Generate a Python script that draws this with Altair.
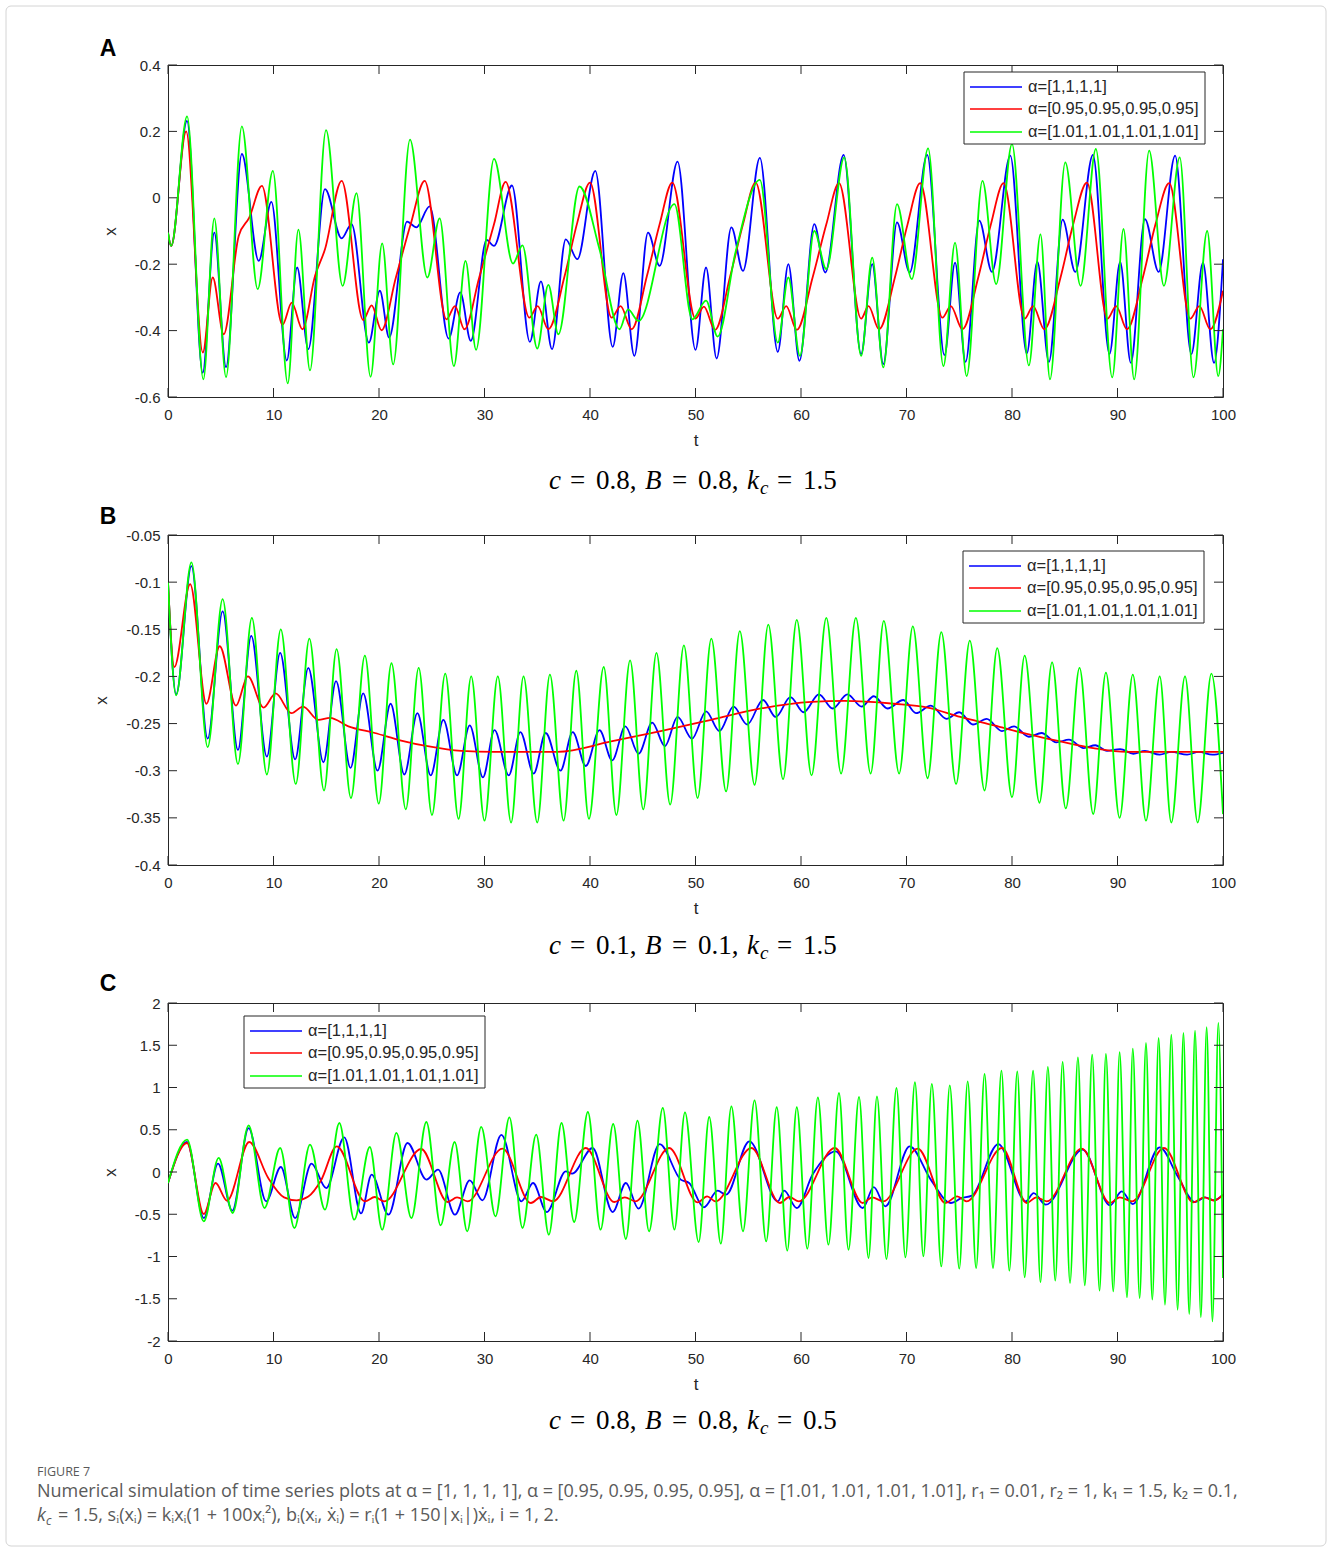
import altair as alt
import pandas as pd

# ---------------- data ----------------
SERIES = ["α=[1,1,1,1]", "α=[0.95,0.95,0.95,0.95]", "α=[1.01,1.01,1.01,1.01]"]
COLORS = ["#0000ff", "#ff0000", "#00ff00"]
LETTERS = ["A", "B", "C"]
PARAMS = [("0.8", "0.8", "1.5"), ("0.1", "0.1", "1.5"), ("0.8", "0.8", "0.5")]

X_TICKS = [0, 10, 20, 30, 40, 50, 60, 70, 80, 90, 100]
A_Y_TICKS = [-0.6, -0.4, -0.2, 0, 0.2, 0.4]
B_Y_TICKS = [-0.4, -0.35, -0.3, -0.25, -0.2, -0.15, -0.1, -0.05]
C_Y_TICKS = [-2, -1.5, -1, -0.5, 0, 0.5, 1, 1.5, 2]

# Panel A  (t, x) extrema
A_BLUE = [(0, -0.105), (0.3, -0.145), (1.8, 0.232), (3.29, -0.527), (4.39, -0.105), (5.5, -0.51), (7.0, 0.132),
          (8.6, -0.19), (9.8, -0.012), (11.26, -0.49), (12.24, -0.21), (13.3, -0.456), (14.88, 0.026),
          (16.46, -0.122), (17.4, -0.079), (19.04, -0.436), (20.08, -0.28), (20.96, -0.421), (22.66, -0.072),
          (23.54, -0.089), (24.8, -0.026), (26.6, -0.424), (27.7, -0.285), (28.7, -0.431), (30.2, -0.127),
          (30.9, -0.145), (32.6, 0.037), (34.3, -0.434), (35.35, -0.252), (36.4, -0.456), (37.7, -0.125),
          (38.8, -0.185), (40.5, 0.081), (42.15, -0.449), (43.16, -0.227), (44.2, -0.476), (45.5, -0.105),
          (46.6, -0.205), (48.3, 0.109), (50.0, -0.458), (51.0, -0.21), (52.0, -0.484), (53.4, -0.089),
          (54.5, -0.22), (56.1, 0.12), (57.8, -0.464), (58.8, -0.2), (59.85, -0.491), (61.26, -0.079),
          (62.3, -0.225), (64.04, 0.129), (65.7, -0.471), (66.75, -0.2), (67.8, -0.501), (69.1, -0.074),
          (70.3, -0.225), (71.96, 0.129), (73.6, -0.474), (74.6, -0.195), (75.6, -0.494), (76.9, -0.069),
          (78.1, -0.223), (79.84, 0.127), (81.4, -0.469), (82.4, -0.192), (83.5, -0.494), (84.8, -0.066),
          (86.0, -0.223), (87.67, 0.129), (89.24, -0.471), (90.25, -0.193), (91.26, -0.497), (92.6, -0.064),
          (93.9, -0.223), (95.46, 0.127), (97.0, -0.471), (98.1, -0.195), (99.15, -0.497), (100, -0.185)]
A_RED = [(0, -0.105), (0.3, -0.145), (1.72, 0.2), (3.3, -0.466), (4.24, -0.24), (5.28, -0.411), (6.7, -0.115),
         (7.7, -0.06), (8.9, 0.036), (10.85, -0.383), (11.73, -0.316), (12.74, -0.396), (13.94, -0.235),
         (14.88, -0.155), (16.46, 0.051), (18.5, -0.368), (19.3, -0.324), (20.24, -0.399), (21.6, -0.24),
         (23.0, -0.08), (24.33, 0.051), (26.4, -0.366), (27.2, -0.326), (28.1, -0.396), (29.5, -0.24),
         (30.9, -0.08), (32.0, 0.048), (34.25, -0.361), (35.04, -0.326), (36.05, -0.396), (37.6, -0.235),
         (38.8, -0.074), (40.0, 0.046), (42.05, -0.361), (42.9, -0.326), (43.95, -0.396), (45.4, -0.235),
         (46.6, -0.08), (47.8, 0.046), (50.0, -0.364), (50.8, -0.328), (51.85, -0.398), (53.3, -0.235),
         (54.5, -0.08), (55.7, 0.046), (57.8, -0.364), (58.6, -0.326), (59.6, -0.398), (61.1, -0.24),
         (62.4, -0.08), (63.6, 0.044), (65.7, -0.364), (66.4, -0.326), (67.4, -0.396), (68.9, -0.24),
         (70.1, -0.08), (71.3, 0.044), (73.4, -0.361), (74.2, -0.326), (75.3, -0.396), (76.8, -0.24),
         (78.0, -0.08), (79.2, 0.044), (81.2, -0.364), (82.0, -0.326), (83.06, -0.396), (84.6, -0.24),
         (85.8, -0.08), (87.1, 0.046), (89.05, -0.364), (89.87, -0.326), (90.9, -0.396), (92.4, -0.24),
         (93.6, -0.08), (94.9, 0.044), (96.9, -0.364), (97.76, -0.326), (98.8, -0.396), (100, -0.28)]
A_GREEN = [(0, -0.105), (0.3, -0.145), (1.81, 0.245), (3.35, -0.547), (4.39, -0.062), (5.5, -0.54), (7.0, 0.215),
           (8.5, -0.275), (9.94, 0.081), (11.35, -0.559), (12.36, -0.096), (13.46, -0.52), (14.98, 0.204),
           (16.55, -0.265), (17.87, 0.014), (19.2, -0.539), (20.3, -0.137), (21.34, -0.502), (22.94, 0.175),
           (24.58, -0.24), (25.75, -0.062), (27.1, -0.507), (28.2, -0.19), (29.2, -0.458), (30.9, 0.117),
           (32.7, -0.198), (33.6, -0.143), (35.0, -0.454), (36.05, -0.262), (37.0, -0.411), (39.0, 0.034),
           (40.9, -0.155), (42.8, -0.396), (43.6, -0.336), (44.6, -0.371), (48.0, -0.019), (49.7, -0.366),
           (51.0, -0.31), (52.1, -0.418), (53.8, -0.163), (56.1, 0.054), (57.8, -0.436), (58.8, -0.24),
           (59.9, -0.476), (61.26, -0.1), (62.4, -0.215), (64.1, 0.122), (65.7, -0.476), (66.75, -0.18),
           (67.8, -0.511), (69.1, -0.019), (70.5, -0.245), (72.05, 0.149), (73.5, -0.507), (74.6, -0.135),
           (75.7, -0.537), (77.2, 0.051), (78.5, -0.26), (80.0, 0.162), (81.6, -0.505), (82.7, -0.11),
           (83.6, -0.547), (85.05, 0.107), (86.5, -0.265), (87.95, 0.147), (89.5, -0.541), (90.57, -0.094),
           (91.58, -0.547), (93.0, 0.142), (94.4, -0.265), (95.9, 0.122), (97.2, -0.541), (98.5, -0.1),
           (99.55, -0.537), (100, -0.396)]

# Panel B
B_BLUE = [(0, -0.1), (0.77, -0.219), (2.22, -0.083), (3.76, -0.266), (5.18, -0.131), (6.63, -0.278),
          (7.89, -0.157), (9.37, -0.285), (10.63, -0.175), (12.05, -0.288), (13.3, -0.191), (14.73, -0.291),
          (15.93, -0.205), (17.3, -0.297), (18.5, -0.218), (19.86, -0.3), (21.1, -0.229), (22.4, -0.304),
          (23.64, -0.239), (24.9, -0.305), (26.1, -0.246), (27.4, -0.305), (28.6, -0.252), (29.85, -0.307),
          (30.95, -0.257), (32.3, -0.305), (33.4, -0.259), (34.66, -0.303), (35.8, -0.26), (37.2, -0.3),
          (38.36, -0.259), (39.6, -0.295), (40.9, -0.257), (42.1, -0.289), (43.35, -0.253), (44.6, -0.282),
          (45.9, -0.249), (47.1, -0.274), (48.3, -0.243), (49.67, -0.266), (51.0, -0.237), (52.26, -0.258),
          (53.6, -0.232), (54.9, -0.251), (56.4, -0.225), (57.6, -0.243), (59.0, -0.222), (60.25, -0.238),
          (61.7, -0.219), (63.0, -0.234), (64.4, -0.219), (65.75, -0.232), (66.9, -0.221), (68.2, -0.234),
          (69.7, -0.225), (70.9, -0.239), (72.3, -0.231), (73.8, -0.245), (75.0, -0.238), (76.3, -0.251),
          (77.6, -0.245), (79.05, -0.258), (80.2, -0.253), (81.6, -0.264), (82.8, -0.26), (84.2, -0.27),
          (85.4, -0.267), (86.8, -0.276), (87.9, -0.273), (89.0, -0.279), (90.25, -0.277), (91.5, -0.282),
          (92.6, -0.279), (94.0, -0.283), (95.1, -0.28), (96.6, -0.283), (97.7, -0.28), (99.0, -0.283),
          (100, -0.281)]
B_RED = [(0, -0.1), (0.6, -0.19), (2.1, -0.102), (3.64, -0.229), (4.9, -0.168), (6.44, -0.231), (7.57, -0.2),
         (9.06, -0.233), (10.2, -0.218), (11.7, -0.239), (12.8, -0.232), (14.25, -0.246), (15.35, -0.244),
         (17.1, -0.253), (19.6, -0.26), (22.1, -0.268), (24.6, -0.274), (27.8, -0.279), (30.9, -0.28),
         (36.9, -0.28), (42.0, -0.269), (46.7, -0.258), (51.5, -0.246), (56.2, -0.234), (61.0, -0.227),
         (64.1, -0.226), (68.8, -0.229), (72.0, -0.233), (75.1, -0.243), (78.3, -0.252), (81.4, -0.261),
         (84.6, -0.269), (87.7, -0.276), (90.9, -0.28), (94.0, -0.28), (100, -0.28)]
B_GREEN = [(0, -0.1), (0.77, -0.22), (2.22, -0.079), (3.76, -0.275), (5.18, -0.118), (6.63, -0.293),
           (7.95, -0.138), (9.37, -0.304), (10.69, -0.15), (12.11, -0.314), (13.4, -0.16), (14.79, -0.321),
           (15.98, -0.171), (17.34, -0.329), (18.66, -0.178), (19.98, -0.335), (21.18, -0.186), (22.54, -0.341),
           (23.76, -0.191), (25.02, -0.347), (26.28, -0.197), (27.54, -0.351), (28.74, -0.2), (30.0, -0.353),
           (31.26, -0.2), (32.52, -0.355), (33.7, -0.2), (35.0, -0.355), (36.2, -0.198), (37.5, -0.353),
           (38.7, -0.194), (39.9, -0.351), (41.3, -0.19), (42.5, -0.347), (43.8, -0.183), (45.05, -0.341),
           (46.3, -0.175), (47.6, -0.336), (48.9, -0.167), (50.2, -0.329), (51.5, -0.16), (52.9, -0.322),
           (54.2, -0.152), (55.6, -0.315), (56.9, -0.145), (58.3, -0.309), (59.6, -0.14), (61.0, -0.305),
           (62.4, -0.138), (63.8, -0.303), (65.2, -0.138), (66.6, -0.303), (67.85, -0.141), (69.3, -0.303),
           (70.6, -0.147), (72.0, -0.308), (73.3, -0.153), (74.7, -0.314), (76.0, -0.162), (77.4, -0.321),
           (78.6, -0.17), (80.0, -0.328), (81.2, -0.178), (82.6, -0.334), (83.8, -0.185), (85.1, -0.34),
           (86.4, -0.191), (87.7, -0.346), (88.9, -0.196), (90.2, -0.35), (91.45, -0.198), (92.7, -0.353),
           (94.0, -0.2), (95.1, -0.355), (96.4, -0.2), (97.6, -0.355), (98.9, -0.197), (100, -0.346)]

# Panel C
C_BLUE = [(0, -0.13), (1.8, 0.355), (3.4, -0.545), (4.74, 0.099), (6.1, -0.458), (7.64, 0.52), (9.3, -0.347),
          (10.7, 0.059), (12.05, -0.545), (13.6, 0.099), (15.0, -0.19), (16.7, 0.41), (18.3, -0.49),
          (19.3, -0.03), (20.9, -0.505), (22.7, 0.343), (24.5, -0.09), (25.6, 0.028), (27.2, -0.505),
          (28.6, -0.1), (29.8, -0.335), (31.6, 0.44), (33.5, -0.347), (34.6, -0.13), (35.9, -0.474),
          (37.7, 0.008), (38.3, -0.02), (40.25, 0.284), (42.15, -0.474), (43.4, -0.13), (44.6, -0.434),
          (46.6, 0.331), (48.6, -0.09), (49.4, -0.13), (50.8, -0.418), (52.1, -0.221), (52.9, -0.268),
          (55.1, 0.363), (57.8, -0.347), (58.4, -0.221), (59.6, -0.426), (61.1, -0.03), (63.3, 0.245),
          (65.85, -0.426), (66.9, -0.18), (68.0, -0.406), (70.3, 0.304), (72.3, -0.09), (74.2, -0.367),
          (75.2, -0.31), (76.2, -0.28), (78.7, 0.331), (81.3, -0.347), (82.05, -0.249), (83.2, -0.387),
          (86.7, 0.264), (89.3, -0.395), (90.4, -0.229), (91.45, -0.379), (94.0, 0.292), (95.7, -0.05),
          (97.35, -0.355), (98.3, -0.3), (99.15, -0.335), (100, -0.268)]
C_RED = [(0, -0.13), (1.8, 0.343), (3.39, -0.497), (4.5, -0.13), (5.6, -0.34), (7.7, 0.355), (9.5, -0.07),
         (11.0, -0.3), (12.2, -0.335), (13.3, -0.29), (14.5, -0.1), (16.0, 0.304), (18.66, -0.347),
         (19.6, -0.296), (20.5, -0.347), (24.0, 0.272), (26.5, -0.355), (27.4, -0.3), (28.4, -0.347),
         (31.7, 0.276), (34.4, -0.367), (35.35, -0.296), (36.5, -0.347), (39.6, 0.284), (42.3, -0.355),
         (43.3, -0.3), (44.3, -0.347), (47.5, 0.284), (50.2, -0.359), (51.1, -0.288), (51.9, -0.347),
         (55.3, 0.284), (58.0, -0.367), (58.9, -0.296), (59.8, -0.347), (63.2, 0.284), (65.85, -0.367),
         (66.75, -0.3), (67.8, -0.347), (71.07, 0.276), (73.7, -0.367), (74.8, -0.288), (75.7, -0.347),
         (79.05, 0.284), (81.4, -0.367), (82.3, -0.3), (83.3, -0.347), (86.6, 0.276), (89.3, -0.367),
         (90.2, -0.3), (91.4, -0.347), (94.4, 0.284), (97.2, -0.359), (98.2, -0.3), (99.15, -0.337),
         (100, -0.268)]
C_GREEN = [(0, -0.13), (1.81, 0.383), (3.39, -0.584), (4.8, 0.166), (6.13, -0.485), (7.64, 0.552),
           (9.15, -0.426), (10.63, 0.284), (11.98, -0.663), (13.46, 0.324), (14.88, -0.446), (16.24, 0.58),
           (17.65, -0.564), (19.13, 0.296), (20.3, -0.683), (21.65, 0.462), (23.07, -0.545), (24.49, 0.592),
           (25.84, -0.631), (27.17, 0.355), (28.36, -0.702), (29.69, 0.533), (31.04, -0.525), (32.36, 0.647),
           (33.6, -0.663), (34.9, 0.442), (36.1, -0.742), (37.3, 0.58), (38.5, -0.592), (39.8, 0.71),
           (41.0, -0.683), (42.2, 0.568), (43.4, -0.793), (44.5, 0.608), (45.6, -0.702), (46.9, 0.758),
           (48.0, -0.683), (49.0, 0.706), (50.3, -0.829), (51.3, 0.651), (52.4, -0.848), (53.4, 0.777),
           (54.5, -0.702), (55.6, 0.848), (56.7, -0.821), (57.7, 0.766), (58.7, -0.931), (59.6, 0.766),
           (60.6, -0.908), (61.6, 0.884), (62.6, -0.86), (63.6, 0.935), (64.5, -0.92), (65.5, 0.888),
           (66.4, -1.018), (67.2, 0.896), (68.1, -1.03), (69.05, 0.994), (69.9, -1.01), (70.8, 1.062),
           (71.6, -0.998), (72.4, 1.042), (73.3, -1.117), (74.1, 1.026), (75.0, -1.144), (75.8, 1.073),
           (76.6, -1.137), (77.4, 1.16), (78.2, -1.137), (79.0, 1.2), (79.75, -1.168), (80.5, 1.192),
           (81.2, -1.247), (82.0, 1.2), (82.7, -1.306), (83.4, 1.243), (84.1, -1.286), (84.8, 1.302),
           (85.5, -1.314), (86.25, 1.357), (86.9, -1.342), (87.6, 1.389), (88.3, -1.405), (88.9, 1.397),
           (89.6, -1.413), (90.2, 1.417), (90.9, -1.484), (91.45, 1.46), (92.1, -1.492), (92.7, 1.527),
           (93.3, -1.511), (93.9, 1.586), (94.5, -1.571), (95.1, 1.626), (95.7, -1.63), (96.25, 1.646),
           (96.8, -1.681), (97.35, 1.673), (97.9, -1.72), (98.45, 1.713), (99.0, -1.768), (99.56, 1.764),
           (100, -1.255)]

CAPTION_HEAD = "FIGURE 7"
CAPTION_1 = ("Numerical simulation of time series plots at α = [1, 1, 1, 1], α = [0.95, 0.95, 0.95, 0.95], "
             "α = [1.01, 1.01, 1.01, 1.01], r₁ = 0.01, r₂ = 1, k₁ = 1.5, k₂ = 0.1,")
CAPTION_2 = "= 1.5, sᵢ(xᵢ) = kᵢxᵢ(1 + 100xᵢ²), bᵢ(xᵢ, ẋᵢ) = rᵢ(1 + 150|xᵢ|)ẋᵢ,   i = 1, 2."

# ---------------- style ----------------
AX = "#262626"
SANS = "Liberation Sans"
SERIF = "Liberation Serif"
W = 1055
HEIGHTS = [332, 330, 338]
ONE = pd.DataFrame({"k": [0]})
Y_LABEL = "(datum.value < 0 ? '-' : '') + format(abs(datum.value), '.2~f')"


def val_text(text, x, y, size, **kw):
    return alt.Chart(ONE).mark_text(text=text, fontSize=size, **kw).encode(x=alt.value(x), y=alt.value(y))


def legend(bx, by):
    out = [alt.Chart(ONE).mark_rect(fill="white", stroke=AX, strokeWidth=1).encode(
        x=alt.value(bx), x2=alt.value(bx + 241), y=alt.value(by), y2=alt.value(by + 72))]
    for i, (lab, col) in enumerate(zip(SERIES, COLORS)):
        yy = by + [15, 37, 60][i]
        out.append(alt.Chart(ONE).mark_rule(color=col, strokeWidth=1.3).encode(
            x=alt.value(bx + 6), x2=alt.value(bx + 58), y=alt.value(yy)))
        out.append(val_text(lab, bx + 64, yy, 16.5, align="left", baseline="middle", font=SANS, color=AX))
    return out


def formula(p, yb):
    c, b, k = p
    x0 = 381
    f = dict(font=SERIF, color="black", align="left", baseline="alphabetic")
    return [
        val_text("c", x0, yb, 27, fontStyle="italic", **f),
        val_text("=", x0 + 21, yb, 27, **f),
        val_text(c + ",", x0 + 47, yb, 27, **f),
        val_text("B", x0 + 96, yb, 27, fontStyle="italic", **f),
        val_text("=", x0 + 123, yb, 27, **f),
        val_text(b + ",", x0 + 149, yb, 27, **f),
        val_text("k", x0 + 198, yb, 27, fontStyle="italic", **f),
        val_text("c", x0 + 211, yb + 5, 19, fontStyle="italic", **f),
        val_text("=", x0 + 228, yb, 27, **f),
        val_text(k, x0 + 254, yb, 27, **f),
    ]


def panel(series, yticks, H, idx, leg, extra=()):
    xs = alt.Scale(domain=[0, 100], nice=False, zero=False)
    ys = alt.Scale(domain=[yticks[0], yticks[-1]], nice=False, zero=False)
    xaxis = alt.Axis(values=X_TICKS, title="t", format="d", labelPadding=10, titlePadding=10,
                     ticks=False, domain=False, grid=False, labelFlush=False)
    yaxis = alt.Axis(values=yticks, title="x", labelExpr=Y_LABEL, labelPadding=8, titlePadding=15,
                     ticks=False, domain=False, grid=False, labelFlush=False)
    layers = []
    for pts, col in zip(series, COLORS):
        df = pd.DataFrame(pts, columns=["t", "x"])
        layers.append(alt.Chart(df).mark_line(color=col, strokeWidth=1.8, interpolate="monotone", clip=True).encode(
            x=alt.X("t:Q", scale=xs, axis=xaxis),
            y=alt.Y("x:Q", scale=ys, axis=yaxis)))
    xt = pd.DataFrame({"t": X_TICKS})
    yt = pd.DataFrame({"x": yticks})
    for a, b in ((0, 9), (H, H - 9)):
        layers.append(alt.Chart(xt).mark_rule(color=AX, strokeWidth=1).encode(
            x=alt.X("t:Q", scale=xs, axis=xaxis), y=alt.value(a), y2=alt.value(b)))
    for a, b in ((0, 9), (W, W - 9)):
        layers.append(alt.Chart(yt).mark_rule(color=AX, strokeWidth=1).encode(
            y=alt.Y("x:Q", scale=ys, axis=yaxis), x=alt.value(a), x2=alt.value(b)))
    layers += legend(*leg)
    layers.append(val_text(LETTERS[idx], -60, [-16, -18, -19][idx], 23, font=SANS, fontWeight="bold",
                           align="center", baseline="middle", color="black"))
    layers += formula(PARAMS[idx], H + [92, 89, 88][idx])
    layers += list(extra)
    return alt.layer(*layers).properties(width=W, height=H)


frame = [alt.Chart(ONE).mark_rect(fill="white", fillOpacity=0, stroke="#d4d4d4", strokeWidth=1,
                                  cornerRadius=5).encode(
    x=alt.value(-162), x2=alt.value(1158), y=alt.value(-59), y2=alt.value(1481))]

cap_kw = dict(align="left", baseline="middle", color="#5a5a5a", font="Open Sans")
caption = [
    val_text(CAPTION_HEAD, -131, 469, 12.5, **cap_kw),
    val_text(CAPTION_1, -131, 489, 18, **cap_kw),
    val_text("k", -131, 513, 18, fontStyle="italic", **cap_kw),
    val_text("c", -122, 518, 12, fontStyle="italic", **cap_kw),
    val_text(CAPTION_2, -110, 513, 18, **cap_kw),
]

pA = panel([A_BLUE, A_RED, A_GREEN], A_Y_TICKS, HEIGHTS[0], 0, (796, 7), extra=frame)
pB = panel([B_BLUE, B_RED, B_GREEN], B_Y_TICKS, HEIGHTS[1], 1, (795, 16))
pC = panel([C_BLUE, C_RED, C_GREEN], C_Y_TICKS, HEIGHTS[2], 2, (76, 13), extra=caption)

chart = alt.vconcat(pA, pB, pC, spacing=138, bounds="flush").properties(
    padding={"left": 5, "top": 5, "right": 0, "bottom": 0}, background="white"
).configure_view(stroke=AX, strokeWidth=1).configure_axis(
    labelFont=SANS, labelFontSize=15, labelColor=AX,
    titleFont=SANS, titleFontSize=17, titleFontWeight="normal", titleColor=AX
)

chart.save("out.html", embed_options={"renderer": "svg", "actions": False})
